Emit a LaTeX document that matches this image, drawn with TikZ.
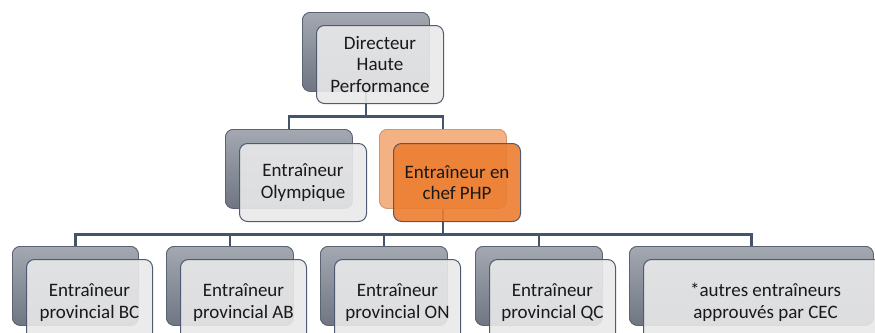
\documentclass[tikz,border=0pt]{standalone}
\usepackage{fontspec}
\setmainfont{Carlito}
\definecolor{linec}{HTML}{44546A}
\definecolor{backtop}{HTML}{A3A8B1}
\definecolor{backbot}{HTML}{6F7682}
\definecolor{backdraw}{HTML}{5B6271}
\definecolor{frontfill}{HTML}{E9E9EA}
\definecolor{frontdraw}{HTML}{4E5B70}
\definecolor{orback}{HTML}{F4B183}
\definecolor{orfront}{HTML}{ED7D31}
\tikzset{
  backbox/.style={rounded corners=8pt, draw=backdraw, line width=0.8pt, top color=backtop, bottom color=backbot, minimum height=79pt, anchor=north west, inner sep=0pt},
  frontbox/.style={rounded corners=8pt, draw=frontdraw, line width=1pt, fill=frontfill, fill opacity=0.9, text opacity=1, minimum height=78pt, anchor=north west, align=center, inner sep=0pt, font=\fontsize{19}{21.5}\selectfont, text=black!90},
  orbackbox/.style={backbox, top color=orback, bottom color=orback, draw=orback!85!black},
  orfrontbox/.style={frontbox, fill=orfront},
  conn/.style={draw=linec, line width=2.8pt}
}
\begin{document}
\begin{tikzpicture}[x=1pt, y={(0pt,-1pt)}]
\clip (0,0) rectangle (875,332);
% back boxes
\node[backbox, minimum width=127pt] (dirB) at (302,12) {};
\node[backbox, minimum width=127pt] (olyB) at (225,129) {};
\node[orbackbox, minimum width=127pt] (phpB) at (379,129) {};
\node[backbox, minimum width=126pt] (bcB) at (12,246) {};
\node[backbox, minimum width=127pt] (abB) at (166,246) {};
\node[backbox, minimum width=127pt] (onB) at (320,246) {};
\node[backbox, minimum width=127pt] (qcB) at (475,246) {};
\node[backbox, minimum width=244pt] (cecB) at (629,246) {};
% connectors
\coordinate (j1) at ([yshift=-25pt]dirB.south);
\coordinate (j2) at ([yshift=-26pt]phpB.south);
\draw[conn] (dirB.south) -- (j1);
\draw[conn] (olyB.north) |- (j1) -| (phpB.north);
\draw[conn] (phpB.south) -- (j2);
\draw[conn] (bcB.north) |- (j2);
\draw[conn] (abB.north) -- (abB.north |- j2);
\draw[conn] (onB.north) -- (onB.north |- j2);
\draw[conn] (qcB.north) -- (qcB.north |- j2);
\draw[conn] (j2) -| (cecB.north);
% redraw back boxes over connector ends
\node[backbox, minimum width=127pt] at (302,12) {};
\node[backbox, minimum width=127pt] at (225,129) {};
\node[orbackbox, minimum width=127pt] at (379,129) {};
\node[backbox, minimum width=126pt] at (12,246) {};
\node[backbox, minimum width=127pt] at (166,246) {};
\node[backbox, minimum width=127pt] at (320,246) {};
\node[backbox, minimum width=127pt] at (475,246) {};
\node[backbox, minimum width=244pt] at (629,246) {};
% front boxes
\node[frontbox, minimum width=127pt] (dirF) at (316,25) {\raisebox{-6pt}{\parbox{124pt}{\centering Directeur\\Haute\\Performance}}};
\node[frontbox, minimum width=127pt] (olyF) at (239,143) {Entraîneur\\Olympique};
\node[orfrontbox, minimum width=127pt] (phpF) at (393,143) {Entraîneur en\\chef PHP};
\node[frontbox, minimum width=126pt, minimum height=86pt] (bcF) at (26,259) {Entraîneur\\provincial BC};
\node[frontbox, minimum width=126pt, minimum height=86pt] (abF) at (180,259) {Entraîneur\\provincial AB};
\node[frontbox, minimum width=126pt, minimum height=86pt] (onF) at (334,259) {Entraîneur\\provincial ON};
\node[frontbox, minimum width=126pt, minimum height=86pt] (qcF) at (489,259) {Entraîneur\\provincial QC};
\node[frontbox, minimum width=244pt, minimum height=86pt] (cecF) at (643,259) {*autres entraîneurs\\approuvés par CEC};
\end{tikzpicture}
\end{document}
